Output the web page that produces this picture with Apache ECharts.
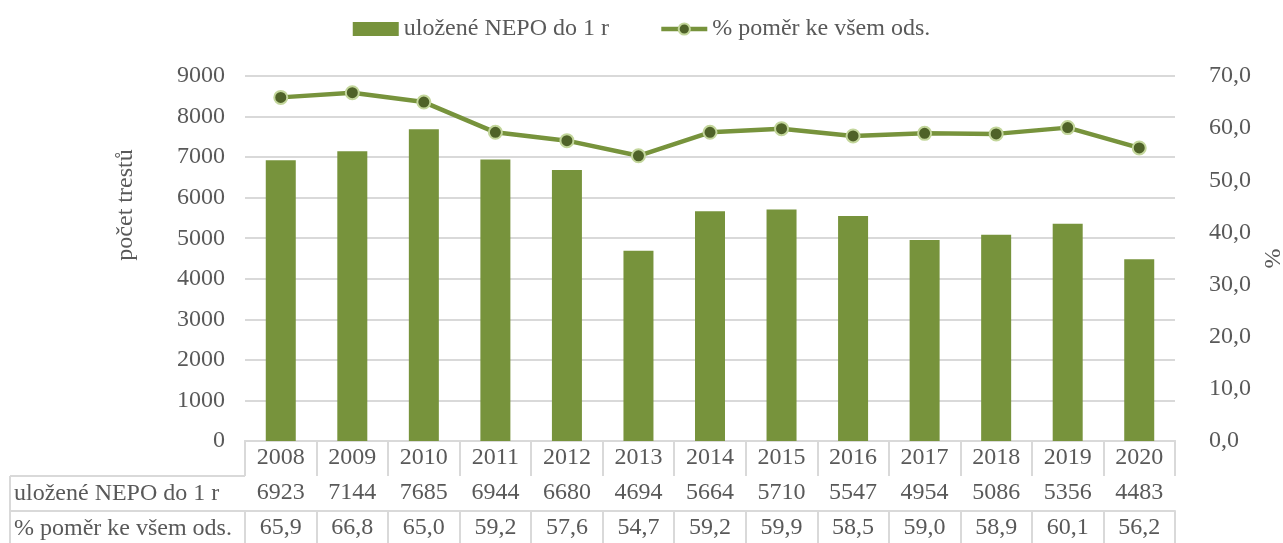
<!DOCTYPE html>
<html>
<head>
<meta charset="utf-8">
<script src="https://cdn.jsdelivr.net/npm/echarts@6/dist/echarts.min.js"></script>
<style>html,body{margin:0;padding:0;background:#fff}#c{width:1283px;height:543px}</style>
</head>
<body>
<div id="c"></div>
<script>
const years = ['2008','2009','2010','2011','2012','2013','2014','2015','2016','2017','2018','2019','2020'];
const nepo = [6923,7144,7685,6944,6680,4694,5664,5710,5547,4954,5086,5356,4483];
const pomer = [65.9,66.8,65.0,59.2,57.6,54.7,59.2,59.9,58.5,59.0,58.9,60.1,56.2];
const seriesNames = ['uložené NEPO do 1 r','% poměr ke všem ods.'];
const leftTicks = {min:0,max:9000,interval:1000};
const rightTicks = {min:0,max:70,interval:10};

const FONT = '"Liberation Serif","Times New Roman",serif';
const FS = 24;
const TXT = '#595959';
const GRID = '#d9d9d9';
const GREEN = '#77933C';

const chart = echarts.init(document.getElementById('c'), null, {renderer:'canvas'});
const fmtPct = v => v.toFixed(1).replace('.', ',');

function tableAxis(data, offset){
  return {
    type:'category', data:data, position:'bottom', offset:offset,
    boundaryGap:true,
    axisLine:{show:true, lineStyle:{color:GRID, width:2}},
    axisTick:{show:true, length:35, interval:0, lineStyle:{color:GRID, width:2}},
    axisLabel:{show:true, interval:0, margin:5, color:TXT, fontFamily:FONT, fontSize:FS},
    splitLine:{show:false}
  };
}

const option = {
  animation:false,
  textStyle:{fontFamily:FONT},
  legend:{
    top:12, left:'center', itemGap:50,
    textStyle:{color:TXT, fontFamily:FONT, fontSize:FS},
    data:[
      {name:seriesNames[0], icon:'rect', itemStyle:{color:GREEN}},
      {name:seriesNames[1], lineStyle:{width:4.5}}
    ],
    itemWidth:46, itemHeight:14
  },
  grid:{left:245, right:108, top:76, bottom:102, containLabel:false, outerBoundsMode:'none'},
  xAxis:[
    tableAxis(years, 0),
    tableAxis(nepo.map(String), 35),
    tableAxis(pomer.map(fmtPct), 70)
  ],
  yAxis:[
    {type:'value', min:leftTicks.min, max:leftTicks.max, interval:leftTicks.interval,
     axisLine:{show:false}, axisTick:{show:false},
     axisLabel:{color:TXT, fontFamily:FONT, fontSize:FS, margin:20, formatter:v=>String(v)},
     splitLine:{lineStyle:{color:GRID, width:2}}},
    {type:'value', min:rightTicks.min, max:rightTicks.max, interval:rightTicks.interval,
     position:'right',
     axisLine:{show:false}, axisTick:{show:false},
     axisLabel:{color:TXT, fontFamily:FONT, fontSize:FS, margin:34, formatter:v=>fmtPct(v)},
     splitLine:{show:false},
     name:'%', nameLocation:'middle', nameGap:86, nameRotate:90,
     nameTextStyle:{color:TXT, fontFamily:FONT, fontSize:FS}}
  ],
  series:[
    {name:seriesNames[0], type:'bar', xAxisIndex:0, yAxisIndex:0, data:nepo,
     barWidth:30, itemStyle:{color:GREEN}},
    {name:seriesNames[1], type:'line', xAxisIndex:0, yAxisIndex:1, data:pomer,
     symbol:'circle', symbolSize:13,
     lineStyle:{color:GREEN, width:4.5},
     itemStyle:{color:'#4F6228', borderColor:'#C3D69B', borderWidth:2}}
  ],
  graphic:[
    {type:'text', rotation:Math.PI/2, x:126, y:205,
     style:{text:'počet trestů', fill:TXT, font:FS+'px '+FONT, textAlign:'center', textVerticalAlign:'middle'}},
    {type:'line', shape:{x1:10,y1:476,x2:245,y2:476}, style:{stroke:GRID, lineWidth:2}},
    {type:'line', shape:{x1:10,y1:511,x2:245,y2:511}, style:{stroke:GRID, lineWidth:2}},
    {type:'line', shape:{x1:10,y1:476,x2:10,y2:545}, style:{stroke:GRID, lineWidth:2}},
    {type:'text', x:14, y:494, style:{text:seriesNames[0], fill:TXT, font:FS+'px '+FONT, textVerticalAlign:'middle'}},
    {type:'text', x:14, y:529, style:{text:seriesNames[1], fill:TXT, font:FS+'px '+FONT, textVerticalAlign:'middle'}}
  ]
};
chart.setOption(option);
</script>
</body>
</html>
